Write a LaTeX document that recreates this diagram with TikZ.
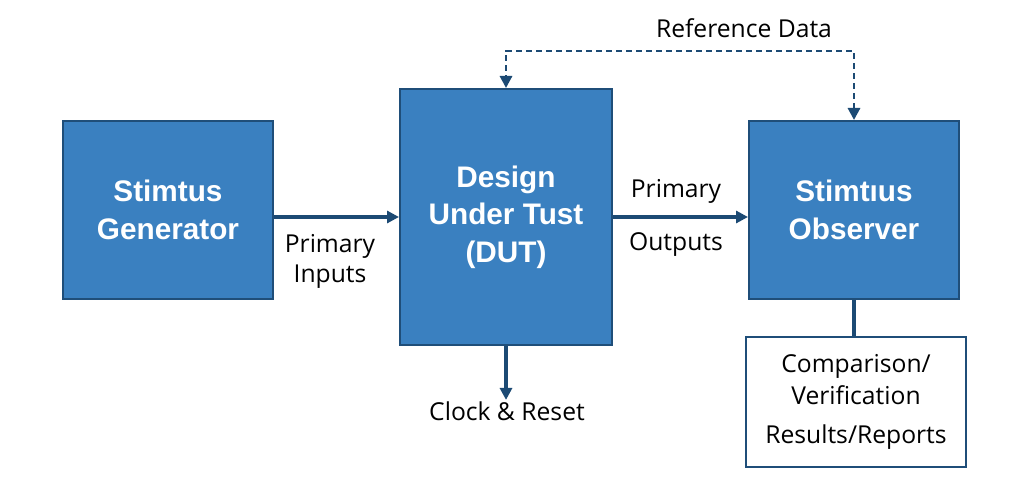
\documentclass[tikz,border=0pt]{standalone}
\usepackage{fontspec}
\setmainfont{Open Sans}
\newfontfamily\boxfont{Liberation Sans}
\usetikzlibrary{arrows.meta,calc}
\definecolor{boxblue}{HTML}{3A80C0}
\definecolor{edgeblue}{HTML}{1F4E79}
\definecolor{linkblue}{HTML}{1C4A74}
\tikzset{
  bluebox/.style={draw=edgeblue, line width=1.5pt, fill=boxblue, text=white,
    align=center, inner sep=0pt, font=\boxfont\bfseries\fontsize{22.3}{28}\selectfont},
  whitebox/.style={draw=edgeblue, line width=1.5pt, fill=white, text=black,
    align=center, inner sep=0pt, minimum width=165pt, minimum height=97.5pt,
    font=\fontsize{18.5}{24}\selectfont},
  lbl/.style={text=black, align=center, inner sep=1pt, font=\fontsize{18.5}{22.5}\selectfont},
  link/.style={draw=linkblue, line width=2.3pt},
  arr/.style={link, -{Triangle[length=9pt,width=9pt]}},
  dasharr/.style={draw=linkblue, line width=2.2pt, dash pattern=on 4.5pt off 3pt,
    {Triangle[length=9pt,width=9pt]}-{Triangle[length=9pt,width=9pt]}}
}
\begin{document}
\begin{tikzpicture}[x=0.75pt,y=-0.75pt]
\useasboundingbox[fill=white] (0,0) rectangle (1024,477);
\node[bluebox, minimum width=157.5pt, minimum height=133.5pt] (gen) at (168,210) {Stimtus\\Generator};
\node[bluebox, minimum width=159pt, minimum height=192pt] (dut) at (506,217) {Design\\Under Tust\\(DUT)};
\node[bluebox, minimum width=157.5pt, minimum height=133.5pt] (obs) at (854,210) {Stimtıus\\Observer};
\node[whitebox] (res) at (856,402) {Comparison/\\Verification\\[5pt]Results/Reports};
\node[lbl] (pin) at (330,261) {Primary\\Inputs};
\node[lbl] (pout1) at (676,191) {Primary};
\node[lbl] (pout2) at (676,245) {Outputs};
\node[lbl] (clk) at (507,411) {Clock \& Reset};
\node[lbl] (ref) at (744,28) {Reference Data};
\draw[arr] (gen.east |- dut.west) -- (dut.west);
\draw[arr] (dut.east) -- (obs.west |- dut.east);
\draw[arr] (dut.south) -- (dut.south |- clk.north);
\draw[dasharr] (obs.north) -- ++(0,-69) -| (dut.north);
\draw[link] (obs.south) -- (obs.south |- res.north);
\end{tikzpicture}
\end{document}
